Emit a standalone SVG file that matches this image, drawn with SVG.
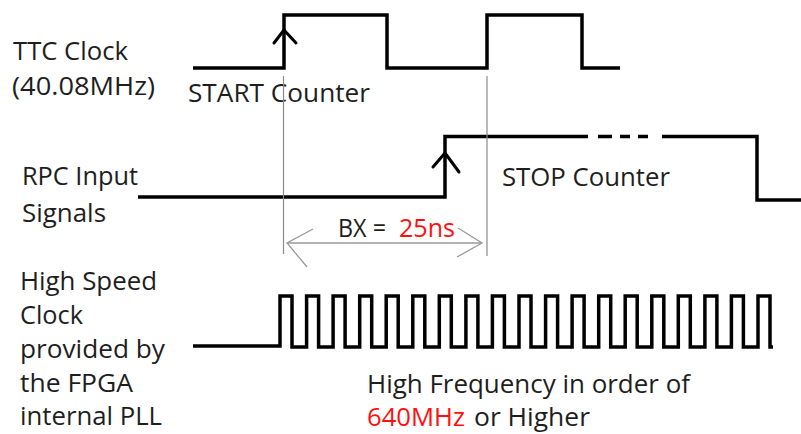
<svg xmlns="http://www.w3.org/2000/svg" width="801" height="434" viewBox="0 0 801 434">
<style>
  .t { font-family: "Open Sans", "Liberation Sans", sans-serif; font-size: 25px; fill: #1e1e1e; }
  .red { fill: #ff1010; }
  .wave { fill: none; stroke: #000; stroke-width: 3.5; stroke-linejoin: miter; stroke-linecap: butt; }
  .arr { fill: none; stroke: #000; stroke-width: 3; stroke-linecap: round; stroke-linejoin: round; }
  .guide { fill: none; stroke: #8a8a8a; stroke-width: 1.2; }
  .dim { fill: none; stroke: #9a9a9a; stroke-width: 1.3; }
</style>
<rect width="801" height="434" fill="#fff"/>

<g id="ttc-label">
  <text class="t" x="13" y="60" textLength="115" lengthAdjust="spacingAndGlyphs">TTC Clock</text>
  <text class="t" x="12" y="95" textLength="143" lengthAdjust="spacingAndGlyphs">(40.08MHz)</text>
</g>
<g id="ttc-wave">
  <path class="wave" d="M193 68 H284 V15 H387 V68 H487 V15 H582 V68 H620"/>
  <polyline class="arr" points="274,43 284,30 296,43"/>
  <text class="t" x="188" y="102" textLength="182" lengthAdjust="spacingAndGlyphs">START Counter</text>
</g>

<g id="rpc-label">
  <text class="t" x="22" y="185" textLength="116" lengthAdjust="spacingAndGlyphs">RPC Input</text>
  <text class="t" x="22" y="222" textLength="84" lengthAdjust="spacingAndGlyphs">Signals</text>
</g>
<g id="rpc-wave">
  <path class="wave" d="M138 197 H445 V136.5 H588 M598 136.5 H612 M620 136.5 H630 M638 136.5 H648 M662 136.5 H757 V200 H801"/>
  <polyline class="arr" points="433,167 445,153 459,172"/>
  <text class="t" x="502" y="186" textLength="168" lengthAdjust="spacingAndGlyphs">STOP Counter</text>
</g>

<g id="connectors">
  <line class="guide" x1="283.5" y1="76" x2="283.5" y2="254"/>
  <line class="guide" x1="487" y1="76" x2="487" y2="256"/>
  <line class="dim" x1="287" y1="243" x2="482" y2="243"/>
  <polyline class="dim" points="313,229 287,243 307,267"/>
  <polyline class="dim" points="458,228 482,243 457,257"/>
</g>
<g id="bx-label">
  <text class="t" x="338" y="237" textLength="48" lengthAdjust="spacingAndGlyphs">BX =</text>
  <text class="t red" x="399" y="237" textLength="56" lengthAdjust="spacingAndGlyphs">25ns</text>
</g>

<g id="hs-label">
  <text class="t" x="20" y="290" textLength="137" lengthAdjust="spacingAndGlyphs">High Speed</text>
  <text class="t" x="20" y="324" textLength="63" lengthAdjust="spacingAndGlyphs">Clock</text>
  <text class="t" x="20" y="358" textLength="145" lengthAdjust="spacingAndGlyphs">provided by</text>
  <text class="t" x="20" y="392" textLength="113" lengthAdjust="spacingAndGlyphs">the FPGA</text>
  <text class="t" x="20" y="425" textLength="142" lengthAdjust="spacingAndGlyphs">internal PLL</text>
</g>
<g id="hs-wave">
  <path class="wave" d="M193 346 H280 V296 H292 V347 H306.6 V296 H318.6 V347 H333.1 V296 H345.1 V347 H359.7 V296 H371.7 V347 H386.2 V296 H398.2 V347 H412.8 V296 H424.8 V347 H439.3 V296 H451.3 V347 H465.9 V296 H477.9 V347 H492.4 V296 H504.4 V347 H519 V296 H531 V347 H545.6 V296 H557.6 V347 H572.1 V296 H584.1 V347 H598.7 V296 H610.7 V347 H625.2 V296 H637.2 V347 H651.8 V296 H663.8 V347 H678.3 V296 H690.3 V347 H704.9 V296 H716.9 V347 H731.4 V296 H743.4 V347 H758 V296 H770 V347 H773"/>
</g>
<g id="hs-note">
  <text class="t" x="367" y="393" textLength="323" lengthAdjust="spacingAndGlyphs">High Frequency in order of</text>
  <text class="t red" x="367" y="426" textLength="98" lengthAdjust="spacingAndGlyphs">640MHz</text>
  <text class="t" x="474" y="426" textLength="116" lengthAdjust="spacingAndGlyphs">or Higher</text>
</g>
</svg>
